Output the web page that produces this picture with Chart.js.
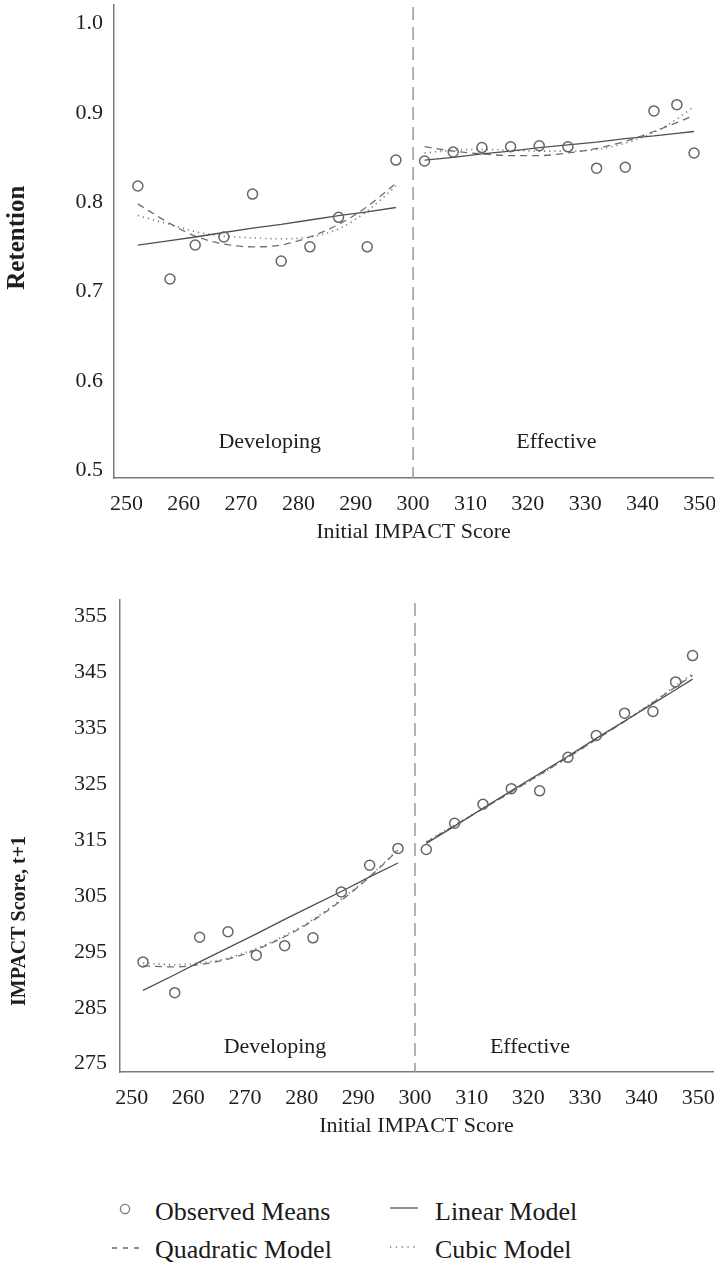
<!DOCTYPE html>
<html><head><meta charset="utf-8">
<script src="https://cdn.jsdelivr.net/npm/chart.js@4.4.1/dist/chart.umd.min.js"></script>
<style>
html,body{margin:0;padding:0;background:#fff;}
#wrap{position:relative;width:715px;height:1267px;overflow:hidden;font-family:'Liberation Serif','Times New Roman',serif;}
.box{position:absolute;left:0;width:715px;}
#b1{top:0;height:545px;}
#b2{top:595px;height:544px;}
.leg{position:absolute;font-size:26px;color:#1a1a1a;line-height:30px;white-space:nowrap;}
svg.sym{position:absolute;overflow:visible;}
</style></head>
<body>
<div id="wrap">
  <div class="box" id="b1"><canvas id="c1" width="715" height="545"></canvas></div>
  <div class="box" id="b2"><canvas id="c2" width="715" height="544"></canvas></div>
  <div id="legend"></div>
</div>
<script>
// ---------------- data ----------------
const seriesNames = ['Observed Means', 'Linear Model', 'Quadratic Model', 'Cubic Model'];
const xTitle = 'Initial IMPACT Score';
const regionNames = ['Developing', 'Effective'];
const xTicks = [250, 260, 270, 280, 290, 300, 310, 320, 330, 340, 350];
const retentionTicks = [0.5, 0.6, 0.7, 0.8, 0.9, 1.0];
const scoreTicks = [275, 285, 295, 305, 315, 325, 335, 345, 355];

const xDeveloping = [252, 257.6, 262, 267, 272, 277, 282, 287, 292, 297];
const xEffective  = [302, 307, 312, 317, 322, 327, 332, 337, 342, 346, 349];

// Retention (top panel)
const retObsDev  = [0.818, 0.714, 0.752, 0.761, 0.809, 0.734, 0.750, 0.783, 0.750, 0.847];
const retLinDev  = [0.752, 0.757, 0.761, 0.766, 0.771, 0.775, 0.780, 0.785, 0.789, 0.794];
const retQuadDev = [0.798, 0.776, 0.762, 0.753, 0.750, 0.752, 0.761, 0.775, 0.795, 0.821];
const retCubDev  = [0.785, 0.775, 0.767, 0.762, 0.760, 0.759, 0.761, 0.770, 0.790, 0.818];
const retObsEff  = [0.846, 0.856, 0.861, 0.862, 0.863, 0.862, 0.838, 0.839, 0.902, 0.909, 0.855];
const retLinEff  = [0.847, 0.850, 0.854, 0.857, 0.861, 0.864, 0.867, 0.871, 0.874, 0.877, 0.879];
const retQuadEff = [0.862, 0.857, 0.854, 0.852, 0.852, 0.855, 0.860, 0.868, 0.879, 0.889, 0.897];
const retCubEff  = [0.855, 0.858, 0.859, 0.858, 0.857, 0.857, 0.859, 0.866, 0.878, 0.893, 0.907];

// IMPACT score t+1 (bottom panel)
const scoreObsDev  = [293.2, 287.7, 297.6, 298.6, 294.4, 296.1, 297.5, 305.7, 310.5, 313.5];
const scoreLinDev  = [288.1, 290.9, 293.2, 295.7, 298.2, 300.8, 303.3, 305.8, 308.4, 310.9];
const scoreQuadDev = [292.5, 292.3, 292.7, 293.7, 295.4, 297.7, 300.6, 304.2, 308.4, 313.2];
const scoreCubDev  = [293.0, 292.7, 293.0, 293.9, 295.6, 297.9, 300.8, 304.4, 308.5, 313.3];
const scoreObsEff  = [313.3, 318.0, 321.4, 324.2, 323.8, 329.8, 333.7, 337.7, 338.0, 343.3, 348.0];
const scoreLinEff  = [314.4, 317.5, 320.7, 323.8, 326.9, 330.0, 333.2, 336.3, 339.4, 341.9, 343.8];
const scoreQuadEff = [314.6, 317.6, 320.6, 323.6, 326.7, 329.8, 333.0, 336.2, 339.6, 342.4, 344.5];
const scoreCubEff  = [314.7, 317.7, 320.6, 323.6, 326.6, 329.8, 333.0, 336.3, 339.7, 342.6, 344.8];

// ---------------- styling ----------------
const FONT = "'Liberation Serif', 'Times New Roman', serif";
Chart.defaults.font.family = FONT;
Chart.defaults.color = '#1e1e1e';

const pts = (xs, ys) => xs.map((x, i) => ({x, y: ys[i]}));

const styleObs  = {type:'scatter', showLine:false, pointRadius:5, pointHoverRadius:5, pointBorderColor:'#666', pointBackgroundColor:'rgba(255,255,255,0)', pointBorderWidth:1.5, order:0, clip:false};
const styleLin  = {type:'line', borderColor:'#4f4f4f', borderWidth:1.3, pointRadius:0, tension:0, fill:false, order:1};
const styleQuad = {type:'line', borderColor:'#6e6e6e', borderWidth:1.3, borderDash:[7,5], pointRadius:0, cubicInterpolationMode:'monotone', fill:false, order:2};
const styleCub  = {type:'line', borderColor:'#7a7a7a', borderWidth:1.6, borderDash:[1.2,4], pointRadius:0, cubicInterpolationMode:'monotone', fill:false, order:3};

function buildDatasets(obsD, linD, quadD, cubD, obsE, linE, quadE, cubE) {
  return [
    {...styleObs,  label:seriesNames[0], data:pts(xDeveloping, obsD)},
    {...styleObs,  label:seriesNames[0], data:pts(xEffective, obsE)},
    {...styleLin,  label:seriesNames[1], data:pts(xDeveloping, linD)},
    {...styleLin,  label:seriesNames[1], data:pts(xEffective, linE)},
    {...styleQuad, label:seriesNames[2], data:pts(xDeveloping, quadD)},
    {...styleQuad, label:seriesNames[2], data:pts(xEffective, quadE)},
    {...styleCub,  label:seriesNames[3], data:pts(xDeveloping, cubD)},
    {...styleCub,  label:seriesNames[3], data:pts(xEffective, cubE)},
  ];
}

const regionPlugin = {
  id: 'regionPlugin',
  beforeDatasetsDraw(chart, args, opts) {
    const {ctx, chartArea, scales:{x}} = chart;
    const px = x.getPixelForValue(opts.divider);
    ctx.save();
    ctx.strokeStyle = '#9a9a9a';
    ctx.lineWidth = 1.5;
    ctx.setLineDash([13, 7]);
    ctx.beginPath();
    ctx.moveTo(px, chartArea.top + opts.dividerTopGap);
    ctx.lineTo(px, chartArea.bottom);
    ctx.stroke();
    ctx.restore();
  },
  afterDatasetsDraw(chart, args, opts) {
    const {ctx, chartArea, scales:{x, y}} = chart;
    ctx.save();
    ctx.font = '22px ' + FONT;
    ctx.fillStyle = '#1e1e1e';
    ctx.textAlign = 'center';
    ctx.textBaseline = 'middle';
    opts.labels.forEach((l, i) => ctx.fillText(regionNames[i], x.getPixelForValue(l.x), y.getPixelForValue(l.y)));
    // y-axis title (rotated), placed like the reference
    const t = opts.yTitle;
    ctx.font = 'bold ' + t.size + 'px ' + FONT;
    ctx.translate(t.cx, chartArea.top + (chartArea.bottom - chartArea.top) * t.frac);
    ctx.rotate(-Math.PI / 2);
    ctx.fillText(t.text, 0, 0);
    ctx.restore();
  }
};

function makeChart(id, datasets, yCfg, xCfg, regionOpts) {
  return new Chart(document.getElementById(id), {
    data: {datasets},
    plugins: [regionPlugin],
    options: {
      responsive: false,
      animation: false,
      events: [],
      layout: {autoPadding: false, padding: {top: 5, right: 2, left: 0, bottom: 0}},
      plugins: {legend: {display: false}, tooltip: {enabled: false}, regionPlugin: regionOpts},
      scales: {
        x: {
          type: 'linear', min: xCfg.min, max: xCfg.max,
          afterBuildTicks: s => { s.ticks = xTicks.map(v => ({value: v})); },
          afterFit: s => { s.height = 67; s.paddingLeft = 0; s.paddingRight = 0; },
          grid: {display: false},
          border: {display: true, color: '#7a7a7a', width: 1.5},
          ticks: {padding: 5, font: {size: 22}, color: '#1e1e1e', maxRotation: 0, autoSkip: false, callback: v => String(v)},
          title: {display: true, text: xTitle, font: {size: 22}, color: '#1e1e1e', padding: {top: 0, bottom: 0}}
        },
        y: {
          type: 'linear', min: yCfg.min, max: yCfg.max,
          afterBuildTicks: s => { s.ticks = yCfg.ticks.map(v => ({value: v})); },
          afterFit: s => { s.width = yCfg.width; s.paddingTop = 0; s.paddingBottom = 0; },
          grid: {display: false},
          border: {display: true, color: '#7a7a7a', width: 1.5},
          ticks: {padding: yCfg.pad, font: {size: 22}, color: '#1e1e1e', autoSkip: false, callback: yCfg.fmt},
          title: {display: false}
        }
      }
    }
  });
}

makeChart('c1',
  buildDatasets(retObsDev, retLinDev, retQuadDev, retCubDev, retObsEff, retLinEff, retQuadEff, retCubEff),
  {min: 0.4914, max: 1.0205, ticks: retentionTicks, width: 114, pad: 3, fmt: v => Number(v).toFixed(1)},
  {min: 247.84, max: 352.3},
  {divider: 300, dividerTopGap: 2, labels: [{x: 275, y: 0.531}, {x: 325, y: 0.531}],
   yTitle: {text: 'Retention', size: 25, cx: 17.5, frac: 0.492}}
);

makeChart('c2',
  buildDatasets(scoreObsDev, scoreLinDev, scoreQuadDev, scoreCubDev, scoreObsEff, scoreLinEff, scoreQuadEff, scoreCubEff),
  {min: 273.5, max: 357.95, ticks: scoreTicks, width: 120, pad: 5, fmt: v => String(v)},
  {min: 247.94, max: 352.6},
  {divider: 300, dividerTopGap: 3, labels: [{x: 275.3, y: 277.9}, {x: 320.3, y: 277.9}],
   yTitle: {text: 'IMPACT Score, t+1', size: 20, cx: 19.5, frac: 0.68}}
);

// ---------------- legend (HTML) ----------------
const legend = document.getElementById('legend');
const legendItems = [
  {name: seriesNames[0], left: 155, top: 1197, sym: '<svg class="sym" style="left:119px;top:1203px" width="12" height="12"><circle cx="6" cy="6" r="4.6" fill="none" stroke="#7a7a7a" stroke-width="1.3"/></svg>'},
  {name: seriesNames[1], left: 435, top: 1197, sym: '<svg class="sym" style="left:390px;top:1206px" width="28" height="4"><line x1="0" y1="2" x2="28" y2="2" stroke="#555" stroke-width="1.3"/></svg>'},
  {name: seriesNames[2], left: 155, top: 1235, sym: '<svg class="sym" style="left:112px;top:1246px" width="28" height="4"><line x1="0" y1="2" x2="28" y2="2" stroke="#666" stroke-width="1.3" stroke-dasharray="5,6"/></svg>'},
  {name: seriesNames[3], left: 435, top: 1235, sym: '<svg class="sym" style="left:390px;top:1245px" width="28" height="4"><line x1="0" y1="2" x2="28" y2="2" stroke="#777" stroke-width="1.5" stroke-dasharray="1.3,4.5"/></svg>'}
];
legend.innerHTML = legendItems.map(it =>
  it.sym + '<div class="leg" style="left:' + it.left + 'px;top:' + it.top + 'px">' + it.name + '</div>'
).join('');
</script>
</body></html>
